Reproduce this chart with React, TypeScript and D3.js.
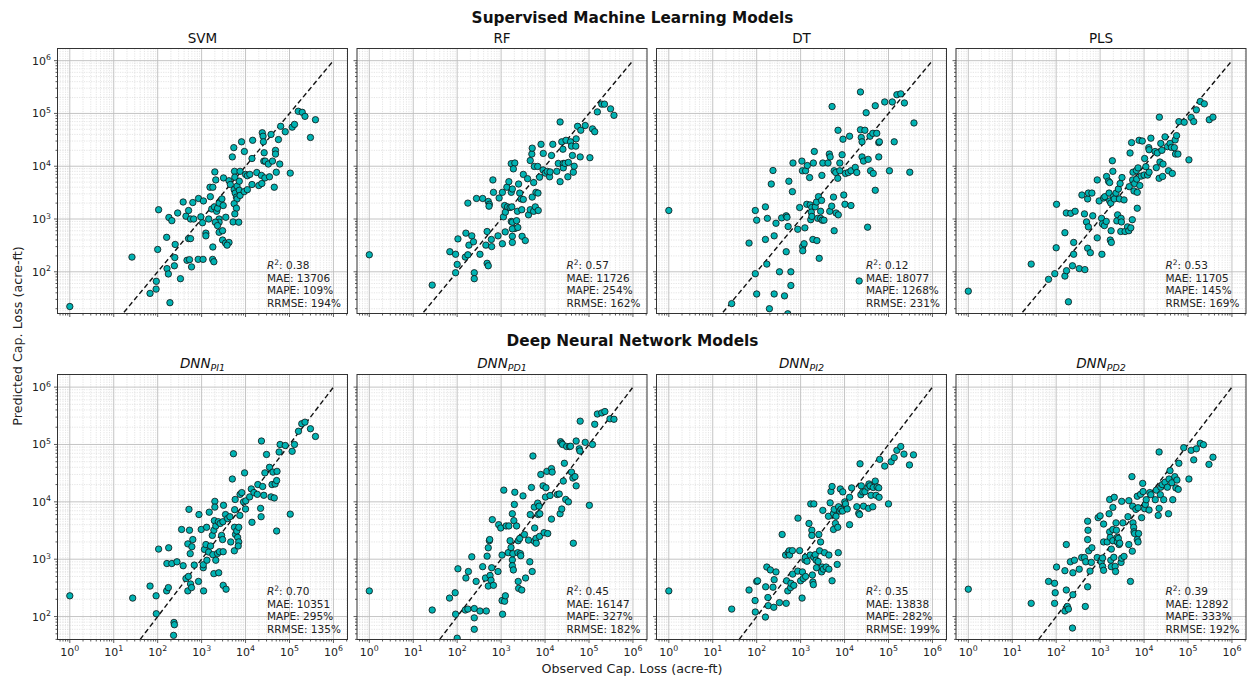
import React, { useEffect } from 'react';
import * as d3 from 'd3';

const svmPts: [number, number][] = [
  [1, 22], [26, 190], [105, 1500], [100, 265], [93, 66], [92, 47], [67, 39], [190, 26], [160, 450], [180, 1070],
  [210, 930], [250, 330], [245, 186], [163, 115], [175, 91], [240, 130], [330, 74], [285, 1300], [380, 2100], [440, 1130],
  [505, 1450], [560, 1000], [660, 1000], [630, 2050], [850, 2450], [1100, 2200], [960, 1100], [1050, 850], [505, 425], [560, 425],
  [465, 165], [530, 170], [590, 124], [835, 172], [1080, 172], [1250, 540], [1250, 480], [1450, 1000], [1800, 295], [1780, 172],
  [1900, 155], [1580, 2650], [1550, 4000], [1800, 4000], [2000, 7800], [2100, 5500], [1700, 1550], [1950, 1700], [2200, 1400], [2300, 1600],
  [2500, 2000], [2900, 2400], [3100, 1800], [2500, 1000], [2500, 870], [2050, 870], [2300, 750], [2500, 560], [3000, 600], [3000, 400],
  [3500, 350], [4200, 360], [3800, 320], [3550, 1080], [3150, 6000], [4200, 5300], [4500, 4500], [5000, 15000], [5400, 22500], [5600, 8000],
  [5700, 6200], [5500, 3600], [5800, 3100], [6200, 2600], [6400, 2400], [5500, 1950], [6200, 1600], [5700, 1250], [5200, 880], [7000, 870],
  [6400, 4200], [7200, 5200], [7500, 8000], [8100, 29000], [7200, 3500], [7500, 2800], [9300, 3300], [9400, 19000], [10000, 7000], [11000, 6600],
  [11000, 3600], [12500, 7000], [14000, 4500], [14500, 31000], [14000, 14000], [18000, 7600], [20000, 4300], [23000, 6700], [23500, 4700], [24000, 43000],
  [25000, 37000], [25500, 29000], [26500, 18000], [26000, 12500], [28000, 12500], [27500, 6000], [33000, 11000], [35000, 6300], [38000, 40000], [41000, 12500],
  [45000, 4000], [48000, 20000], [48000, 17000], [50000, 7700], [56000, 32000], [60000, 11000], [63000, 57000], [80000, 45000], [104000, 7400], [115000, 55000],
  [130000, 62000], [158000, 110000], [195000, 105000], [225000, 88000], [300000, 35000], [390000, 76000],
];

const rfPts: [number, number][] = [
  [1, 210], [27, 56], [68, 240], [92, 215], [100, 138], [92, 96], [104, 420], [158, 540], [153, 190], [175, 210],
  [185, 320], [215, 480], [235, 370], [245, 96], [245, 74], [330, 215], [175, 2000], [275, 2450], [380, 2450], [450, 320],
  [480, 580], [480, 145], [510, 130], [510, 2150], [540, 1900], [530, 1750], [600, 410], [610, 300], [650, 5500], [670, 3200],
  [850, 480], [1070, 340], [1240, 570], [900, 2500], [1070, 3200], [1200, 1800], [1130, 1100], [1250, 1350], [1400, 1700], [1350, 4000],
  [1500, 5100], [1700, 3200], [1800, 3700], [1600, 1650], [1750, 1700], [1700, 11200], [2050, 11500], [1900, 8900], [1700, 900], [1800, 870],
  [2250, 930], [2050, 660], [1800, 650], [1800, 470], [1800, 360], [2400, 690], [2350, 1400], [2500, 4600], [2650, 3100], [2850, 2400],
  [2950, 1500], [3000, 470], [3550, 390], [3200, 7000], [3200, 2350], [4000, 5800], [4200, 1200], [4600, 1500], [4600, 12800], [5000, 17000],
  [5100, 22000], [5100, 2600], [5500, 4900], [5700, 9900], [5500, 1400], [6000, 1700], [7000, 1450], [6200, 3200], [6900, 3100], [6800, 9900],
  [7500, 6200], [8100, 26000], [9100, 17500], [9000, 8500], [10100, 7400], [11200, 8000], [12700, 6300], [13000, 7800], [14000, 16000], [15000, 26000],
  [18500, 8000], [20000, 11300], [22000, 5100], [22000, 69000], [24000, 29000], [26000, 11300], [25500, 21000], [26000, 9300], [28500, 11300], [30000, 31000],
  [34000, 11800], [33000, 6300], [38000, 29000], [40000, 24000], [42000, 16000], [44000, 7700], [46000, 10000], [50000, 24000], [51000, 33000], [55000, 57000],
  [63000, 15000], [65000, 48000], [82000, 59000], [105000, 14500], [120000, 51000], [135000, 45000], [155000, 107000], [195000, 150000], [225000, 150000], [310000, 122000],
  [370000, 92000],
];

const dtPts: [number, number][] = [
  [1, 1450], [27, 25], [67, 350], [93, 1450], [100, 950], [93, 92], [100, 38], [158, 1700], [175, 1030], [158, 410],
  [170, 140], [195, 20], [215, 4600], [235, 8300], [250, 480], [250, 38], [275, 830], [330, 100], [370, 1050], [430, 35],
  [470, 240], [470, 1150], [490, 1080], [520, 720], [540, 5200], [600, 55], [600, 100], [650, 3300], [670, 11500], [510, 16],
  [860, 640], [950, 1650], [1070, 12500], [1100, 8200], [1110, 300], [1120, 250], [1200, 340], [1250, 680], [1300, 8200], [1380, 1900],
  [1420, 10300], [1600, 6100], [1650, 1850], [1800, 1650], [1750, 1350], [1700, 970], [1800, 1120], [1900, 410], [2050, 19000], [1950, 11500],
  [2150, 1700], [2300, 2100], [2350, 390], [2450, 1030], [2550, 2650], [2650, 180], [2850, 1400], [2850, 1030], [3000, 2250], [3050, 6700],
  [3200, 11500], [3100, 950], [3400, 950], [4200, 11500], [4500, 17000], [4700, 15000], [4600, 1400], [5100, 1750], [5200, 135000], [5600, 2600],
  [5800, 600], [5800, 8200], [6300, 7600], [6400, 1300], [7000, 5900], [7100, 48000], [7200, 1200], [7800, 8200], [7800, 11500], [8800, 16500],
  [9200, 32500], [9600, 2850], [10200, 1900], [10500, 7300], [12200, 7600], [13000, 37000], [14000, 1800], [14000, 8200], [17500, 9500], [19000, 7600],
  [21500, 67], [23000, 255000], [24000, 35000], [23000, 49000], [25000, 15000], [25000, 29000], [27000, 12500], [29000, 48000], [31000, 103000], [33500, 700],
  [34500, 13500], [38000, 37000], [39000, 8200], [44000, 42000], [45000, 7300], [50000, 3500], [50000, 140000], [54000, 42000], [60000, 28000], [62000, 29000],
  [60000, 15000], [82000, 165000], [105000, 8200], [122000, 165000], [135000, 29000], [155000, 226000], [190000, 235000], [230000, 158000], [305000, 7700], [380000, 66000],
];

const plsPts: [number, number][] = [
  [1, 43], [27, 140], [67, 72], [93, 92], [100, 285], [102, 1900], [158, 550], [158, 83], [170, 1300], [172, 105],
  [190, 27], [215, 1280], [235, 130], [250, 360], [250, 215], [270, 1400], [335, 115], [450, 110], [385, 2850], [440, 1250],
  [490, 880], [520, 2400], [520, 280], [540, 710], [540, 3100], [600, 230], [650, 3100], [680, 1150], [860, 5500], [860, 440],
  [950, 2200], [1080, 1030], [1100, 215], [1130, 810], [1200, 2500], [1250, 750], [1380, 900], [1280, 2650], [1400, 6400], [1550, 5200],
  [1650, 4900], [1600, 3100], [1650, 2200], [1750, 2000], [1700, 400], [1800, 360], [1780, 600], [1900, 12700], [1950, 8000], [2000, 2650],
  [2100, 2400], [2300, 3100], [2500, 1200], [2400, 920], [2600, 3700], [2750, 2400], [2850, 4700], [2950, 580], [3000, 1030], [3050, 880],
  [3150, 6100], [3500, 2300], [3700, 580], [4200, 710], [4500, 600], [4600, 4100], [4800, 17800], [5200, 28000], [5000, 680], [5400, 970],
  [5500, 5500], [5600, 7700], [5900, 3400], [6100, 4700], [6700, 8300], [6800, 5700], [7000, 3200], [7000, 1600], [7300, 9300], [7700, 31000],
  [8000, 4300], [8600, 6500], [9100, 30000], [10000, 6800], [10300, 14000], [11000, 9800], [12000, 6800], [13000, 7700], [14300, 34000], [12800, 22500],
  [13000, 20500], [17800, 19000], [19000, 9400], [20000, 17800], [22000, 5900], [22300, 85000], [24000, 27000], [23000, 12000], [25500, 20000], [26500, 6400],
  [27000, 11000], [30000, 36000], [34000, 23500], [36000, 8200], [39000, 27000], [42000, 22700], [44000, 7300], [49000, 22500], [51000, 31500], [52000, 17000],
  [55000, 38000], [59000, 17000], [62000, 70000], [82000, 68000], [105000, 13200], [118000, 84000], [135000, 70000], [155000, 117000], [190000, 168000], [235000, 152000],
  [305000, 76000], [370000, 85000],
];

const dnnPi1Pts: [number, number][] = [
  [1, 230], [27, 210], [67, 340], [92, 230], [93, 112], [105, 1500], [160, 280], [175, 320], [178, 1580], [162, 840],
  [210, 840], [235, 79], [240, 72], [230, 47], [275, 900], [350, 3300], [380, 770], [440, 460], [485, 1850], [515, 7400],
  [530, 3200], [550, 1250], [500, 500], [485, 280], [560, 370], [590, 320], [600, 1650], [630, 2200], [680, 790], [850, 410],
  [870, 6000], [980, 3300], [1090, 710], [1110, 280], [1090, 800], [1160, 1480], [1250, 1800], [1300, 3600], [1320, 960], [1490, 6600],
  [1450, 1330], [1600, 1700], [1750, 2600], [1800, 1200], [1900, 560], [1950, 4700], [2000, 10200], [2000, 8100], [1900, 3200], [2100, 3800],
  [2100, 960], [2300, 1260], [2400, 4500], [2450, 580], [2550, 1350], [2650, 4200], [2850, 2600], [3000, 2200], [3050, 4500], [3100, 1350],
  [3150, 8700], [3100, 350], [3600, 300], [3500, 6000], [3900, 5100], [4400, 5500], [4600, 2000], [5000, 25000], [5300, 69000], [5600, 3600],
  [5650, 7300], [5800, 11000], [5550, 1400], [5900, 2700], [6300, 3100], [6600, 2400], [7000, 3600], [7000, 2000], [6800, 1700], [7400, 5800],
  [7500, 13500], [8200, 14500], [9000, 10000], [10000, 7500], [10100, 10400], [9500, 32000], [12400, 12200], [13500, 16800], [14000, 4400], [15500, 14500],
  [18500, 13500], [19000, 20000], [22000, 7700], [22600, 5500], [23000, 115000], [24500, 18500], [26000, 13000], [27500, 32000], [30000, 67000], [35000, 40000],
  [38000, 12200], [40000, 20000], [42000, 33000], [45000, 11700], [47000, 20500], [51000, 23500], [52000, 34000], [51000, 3100], [58000, 74000], [61000, 100000],
  [80000, 96000], [115000, 76000], [130000, 100000], [104000, 6100], [160000, 170000], [190000, 230000], [225000, 245000], [300000, 188000], [390000, 138000],
];

const dnnPd1Pts: [number, number][] = [
  [1, 280], [27, 130], [67, 210], [90, 260], [92, 110], [100, 42], [104, 680], [153, 130], [158, 470], [175, 135],
  [180, 610], [215, 1100], [245, 138], [245, 60], [245, 95], [270, 410], [330, 125], [380, 740], [460, 125], [440, 470],
  [480, 1130], [510, 1580], [540, 2100], [550, 2200], [510, 340], [560, 520], [590, 430], [610, 710], [630, 4900], [670, 350],
  [850, 610], [880, 4000], [980, 3500], [1050, 1180], [1050, 190], [1080, 110], [1150, 16000], [1200, 185], [1250, 230], [1300, 3800],
  [1450, 1300], [1500, 3800], [1600, 2100], [1680, 1600], [1800, 6200], [1800, 970], [1850, 1250], [1800, 770], [1900, 650], [1950, 4700],
  [2050, 14700], [2000, 9000], [2250, 3800], [2400, 1300], [2450, 2100], [2450, 410], [2500, 310], [2650, 2300], [2750, 1250], [2800, 1150],
  [2950, 290], [3150, 12700], [3400, 2700], [3600, 470], [4200, 2150], [4500, 900], [4600, 6000], [4900, 17800], [5100, 610], [5300, 63000],
  [5700, 8100], [5800, 3500], [5700, 2050], [6200, 2300], [6300, 1900], [6800, 9500], [7000, 6000], [7300, 8400], [7500, 2500], [7600, 6200],
  [8000, 30000], [9000, 19000], [9500, 2900], [10200, 12100], [10500, 17600], [11000, 34000], [11500, 2800], [13000, 12900], [14000, 38000], [14500, 33000],
  [14000, 5000], [19000, 13400], [21000, 13700], [22000, 6200], [24000, 7500], [22500, 112000], [24000, 105000], [25000, 100000], [26000, 23000], [27500, 47000],
  [29500, 11000], [31000, 92000], [34000, 10000], [36000, 92000], [38000, 93000], [40000, 33000], [43000, 26000], [44000, 1900], [48000, 27500], [51000, 19000],
  [51000, 115000], [60000, 84000], [62000, 77000], [63000, 255000], [82000, 109000], [102000, 8700], [120000, 100000], [135000, 225000], [155000, 340000], [195000, 355000],
  [230000, 375000], [300000, 280000], [370000, 275000],
];

const dnnPi2Pts: [number, number][] = [
  [1, 280], [27, 135], [67, 290], [92, 190], [93, 120], [100, 410], [105, 420], [158, 98], [160, 330], [170, 730],
  [180, 215], [183, 155], [205, 650], [235, 325], [245, 145], [250, 440], [275, 600], [330, 175], [380, 2700], [455, 1180],
  [470, 170], [480, 420], [510, 280], [520, 1300], [550, 1400], [560, 1180], [590, 320], [600, 380], [650, 1410], [660, 550],
  [700, 350], [860, 620], [870, 5200], [950, 1410], [1000, 420], [1080, 210], [1100, 600], [1150, 460], [1250, 970], [1280, 1080],
  [1300, 500], [1400, 920], [1550, 4200], [1650, 1180], [1700, 9200], [1800, 3200], [1800, 2600], [1850, 530], [1900, 400], [1950, 360],
  [2000, 9200], [2000, 1080], [2150, 1200], [2250, 960], [2300, 710], [2500, 910], [2600, 2700], [2700, 1400], [2850, 2000], [3000, 600],
  [3100, 730], [3200, 7100], [3300, 670], [3500, 1300], [3800, 730], [4400, 670], [4400, 1180], [4300, 5600], [4700, 9600], [4900, 15200],
  [5200, 18500], [5200, 420], [5600, 6300], [5600, 3300], [5800, 7400], [6200, 4200], [6400, 5600], [6800, 810], [7000, 3600], [7200, 1300],
  [7300, 8200], [7800, 6900], [8000, 16800], [8300, 7400], [9000, 6900], [9100, 14900], [10100, 10000], [10500, 9200], [11500, 7500], [13000, 4000],
  [13000, 12000], [14500, 17500], [19000, 8200], [21000, 6300], [22000, 6000], [22500, 46000], [23500, 13300], [24000, 19000], [26000, 14900], [27000, 8400],
  [29000, 15000], [34000, 18000], [35000, 7700], [36000, 20500], [38000, 19000], [40000, 13000], [44000, 8200], [45000, 17800], [50000, 23000], [52000, 13000],
  [55000, 18200], [60000, 17500], [61000, 12000], [63000, 55000], [82000, 42000], [100000, 9200], [115000, 50000], [135000, 59000], [155000, 79000], [190000, 92000],
  [225000, 68000], [300000, 44000], [370000, 66000],
];

const dnnPd2Pts: [number, number][] = [
  [1, 300], [27, 170], [67, 410], [92, 380], [95, 260], [92, 170], [102, 730], [158, 630], [170, 290], [170, 1800],
  [158, 125], [180, 150], [190, 135], [210, 900], [240, 580], [235, 63], [240, 240], [260, 960], [335, 670], [380, 1070],
  [440, 1070], [470, 900], [460, 150], [520, 330], [520, 2200], [530, 3200], [520, 4600], [550, 1400], [590, 620], [630, 880],
  [650, 1580], [860, 1070], [900, 5300], [1000, 5700], [1050, 960], [1060, 900], [1140, 750], [1140, 1050], [1200, 640], [1200, 2000],
  [1200, 4100], [1450, 2000], [1600, 6200], [1650, 11000], [1650, 3000], [1700, 2400], [1750, 960], [1800, 740], [1800, 1500], [1950, 2100],
  [1950, 3300], [1950, 8000], [2100, 12000], [2050, 1080], [2200, 750], [2250, 610], [2300, 4300], [2350, 3200], [2450, 2400], [2450, 2000],
  [2600, 2300], [2700, 1800], [2800, 1900], [3000, 880], [3100, 10200], [3100, 1040], [3300, 4300], [3500, 1120], [4300, 5500], [4500, 10500],
  [4500, 1800], [4900, 410], [5300, 27500], [5400, 1380], [5500, 8400], [5600, 4300], [5800, 3600], [5900, 3000], [6100, 2800], [6500, 7400],
  [7000, 12500], [7300, 7900], [7000, 2200], [7300, 2000], [7500, 2800], [8300, 13500], [8800, 5300], [9300, 21000], [9500, 15100], [10300, 7600],
  [10700, 9000], [11200, 10900], [13000, 7200], [13500, 14500], [14300, 13300], [18000, 10900], [19000, 16000], [21000, 5800], [22000, 7700], [22000, 74000],
  [23500, 13300], [24000, 18000], [26000, 20000], [28000, 10900], [30000, 22000], [34000, 18000], [36000, 6200], [37000, 25000], [39000, 35000], [43000, 21500],
  [45000, 10900], [50000, 27500], [53000, 17500], [56000, 24000], [60000, 16500], [62000, 47000], [80000, 88000], [105000, 25000], [118000, 79000], [135000, 54000],
  [155000, 84000], [190000, 105000], [225000, 99000], [300000, 45000], [370000, 60000],
];

const rowTitles = ['Supervised Machine Learning Models', 'Deep Neural Network Models'];
const mlNames = ['SVM', 'RF', 'DT', 'PLS'];
const dnnSubs = ['PI1', 'PD1', 'PI2', 'PD2'];
const r2Vals = ['0.38', '0.57', '0.12', '0.53', '0.70', '0.45', '0.35', '0.39'];
const maeVals = [13706, 11726, 18077, 11705, 10351, 16147, 13838, 12892];
const mapeVals = [109, 254, 1268, 145, 295, 327, 282, 333];
const rrmseVals = [194, 162, 231, 169, 135, 182, 199, 192];

const allPts = [svmPts, rfPts, dtPts, plsPts, dnnPi1Pts, dnnPd1Pts, dnnPi2Pts, dnnPd2Pts];

// axis limits (log space)
const xDomain: [number, number] = [10 ** -0.28, 10 ** 6.32];
const yDomains: [number, number][] = [[10 ** 1.21, 10 ** 6.23], [10 ** 1.6, 10 ** 6.22]];
const oneToOne: [number, number][] = [[10, 1e6], [40, 1e6]];

const W = 290;
const H = 265;
const colX = [57.5, 357, 656.5, 956];
const rowY = [48.5, 374.5];
const FONT = 'DejaVu Sans, sans-serif';

function logTicks(dom: [number, number]) {
  const out: { v: number; major: boolean; e: number }[] = [];
  const lo = Math.floor(Math.log10(dom[0]));
  const hi = Math.ceil(Math.log10(dom[1]));
  for (let e = lo; e <= hi; e++) {
    for (let k = 1; k <= 9; k++) {
      const v = k * 10 ** e;
      if (v >= dom[0] && v <= dom[1]) out.push({ v, major: k === 1, e });
    }
  }
  return out;
}

function Panel({ idx, row, col }: { idx: number; row: number; col: number }) {
  const x = d3.scaleLog().domain(xDomain).range([0, W]);
  const y = d3.scaleLog().domain(yDomains[row]).range([H, 0]);
  const xt = logTicks(xDomain);
  const yt = logTicks(yDomains[row]);
  const pts = allPts[idx];
  const clipId = `clip-${idx}`;
  const line = d3
    .line<number>()
    .x((d) => x(d))
    .y((d) => y(d));

  return (
    <g transform={`translate(${colX[col]},${rowY[row]})`}>
      <defs>
        <clipPath id={clipId}>
          <rect x={0} y={0} width={W} height={H} />
        </clipPath>
      </defs>
      <rect x={0} y={0} width={W} height={H} fill="#fff" />
      {/* minor grid */}
      {xt.filter((t) => !t.major).map((t, i) => (
        <line key={`xm${i}`} x1={x(t.v)} x2={x(t.v)} y1={0} y2={H} stroke="#d4d4d4" strokeWidth={0.6} strokeDasharray="1.2,1.2" />
      ))}
      {yt.filter((t) => !t.major).map((t, i) => (
        <line key={`ym${i}`} y1={y(t.v)} y2={y(t.v)} x1={0} x2={W} stroke="#d4d4d4" strokeWidth={0.6} strokeDasharray="1.2,1.2" />
      ))}
      {/* major grid */}
      {xt.filter((t) => t.major).map((t, i) => (
        <line key={`xM${i}`} x1={x(t.v)} x2={x(t.v)} y1={0} y2={H} stroke="#bdbdbd" strokeWidth={0.9} />
      ))}
      {yt.filter((t) => t.major).map((t, i) => (
        <line key={`yM${i}`} y1={y(t.v)} y2={y(t.v)} x1={0} x2={W} stroke="#bdbdbd" strokeWidth={0.9} />
      ))}

      <g clipPath={`url(#${clipId})`}>
        <path d={line(oneToOne[row]) || ''} fill="none" stroke="#111" strokeWidth={1.4} strokeDasharray="5,3" />
        {pts.map((p, i) => (
          <circle key={i} cx={x(p[0])} cy={y(p[1])} r={3.2} fill="#00b3b3" stroke="#111" strokeWidth={0.8} />
        ))}
      </g>

      {/* ticks */}
      {xt.map((t, i) => (
        <line key={`xt${i}`} x1={x(t.v)} x2={x(t.v)} y1={H} y2={H + (t.major ? 3.5 : 2)} stroke="#333" strokeWidth={0.8} />
      ))}
      {yt.map((t, i) => (
        <line key={`yt${i}`} y1={y(t.v)} y2={y(t.v)} x1={0} x2={t.major ? -3.5 : -2} stroke="#333" strokeWidth={0.8} />
      ))}
      {row === 1 &&
        xt.filter((t) => t.major).map((t, i) => (
          <text key={`xl${i}`} x={x(t.v)} y={H + 16} textAnchor="middle" fontSize={11} fill="#222" fontFamily={FONT}>
            10<tspan dy={-4.5} fontSize={7.8}>{t.e}</tspan>
          </text>
        ))}
      {col === 0 &&
        yt.filter((t) => t.major).map((t, i) => (
          <text key={`yl${i}`} x={-6.5} y={y(t.v) + 4} textAnchor="end" fontSize={11} fill="#222" fontFamily={FONT}>
            10<tspan dy={-4.5} fontSize={7.8}>{t.e}</tspan>
          </text>
        ))}

      <rect x={0} y={0} width={W} height={H} fill="none" stroke="#333" strokeWidth={1} />

      {/* title */}
      {row === 0 ? (
        <text x={W / 2} y={-5.5} textAnchor="middle" fontSize={13.5} fill="#111" fontFamily={FONT}>
          {mlNames[col]}
        </text>
      ) : (
        <text x={W / 2} y={-6.5} textAnchor="middle" fontSize={13.5} fill="#111" fontFamily={FONT} fontStyle="italic">
          DNN<tspan dy={2.5} fontSize={9.5}>{dnnSubs[col]}</tspan>
        </text>
      )}

      {/* metrics */}
      <g fontFamily={FONT} fontSize={10.5} fill="#222">
        <text x={209.5} y={220.5}>
          <tspan fontStyle="italic">R</tspan>
          <tspan dy={-4} fontSize={7.5}>2</tspan>
          <tspan dy={4}>: {r2Vals[idx]}</tspan>
        </text>
        <text x={209.5} y={233}>MAE: {maeVals[idx]}</text>
        <text x={209.5} y={245.5}>MAPE: {mapeVals[idx]}%</text>
        <text x={209.5} y={258}>RRMSE: {rrmseVals[idx]}%</text>
      </g>
    </g>
  );
}

export default function App() {
  useEffect(() => {
    document.body.style.margin = '0';
    document.body.style.overflow = 'hidden';
  }, []);

  return (
    <svg width={1247} height={679} style={{ display: 'block', background: '#fff' }} fontFamily={FONT}>
      <rect width={1247} height={679} fill="#fff" />
      <text x={632.5} y={23} textAnchor="middle" fontSize={15.3} fontWeight="bold" fill="#111">
        {rowTitles[0]}
      </text>
      <text x={632.5} y={345.5} textAnchor="middle" fontSize={15.3} fontWeight="bold" fill="#111">
        {rowTitles[1]}
      </text>
      {[0, 1].map((row) =>
        [0, 1, 2, 3].map((col) => <Panel key={`${row}-${col}`} idx={row * 4 + col} row={row} col={col} />)
      )}
      <text x={632} y={673} textAnchor="middle" fontSize={12.7} fill="#222">
        Observed Cap. Loss (acre-ft)
      </text>
      <text transform="translate(22,336) rotate(-90)" textAnchor="middle" fontSize={12.7} fill="#222">
        Predicted Cap. Loss (acre-ft)
      </text>
    </svg>
  );
}
